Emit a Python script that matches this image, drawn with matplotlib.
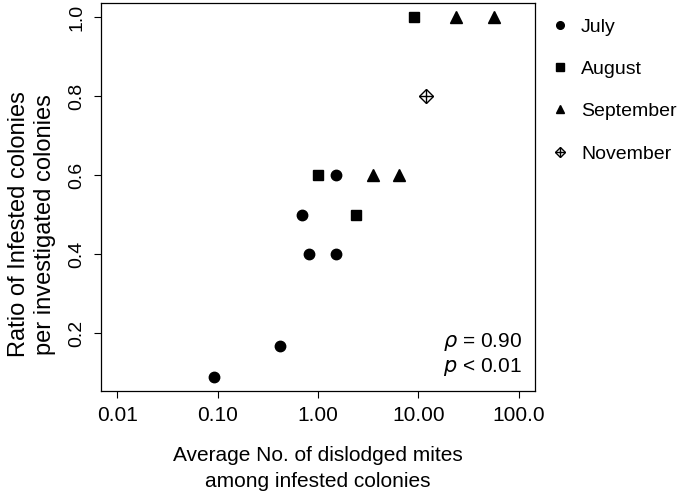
import matplotlib
matplotlib.use("Agg")
import matplotlib.pyplot as plt
from matplotlib.lines import Line2D
from matplotlib.legend_handler import HandlerTuple

plt.rcParams['font.family'] = ['Liberation Sans', 'DejaVu Sans']

# data
july_x = [0.092, 0.418, 0.69, 0.81, 1.51, 1.51]
july_y = [0.09, 0.167, 0.5, 0.4, 0.6, 0.4]
aug_x = [1.01, 2.41, 9.04]
aug_y = [0.6, 0.5, 1.0]
sep_x = [3.55, 6.46, 23.8, 56.0]
sep_y = [0.6, 0.6, 1.0, 1.0]
nov_x = [11.8]
nov_y = [0.8]

xticks = [0.01, 0.1, 1, 10, 100]
xticklabels = ['0.01', '0.10', '1.00', '10.00', '100.0']
yticks = [0.2, 0.4, 0.6, 0.8, 1.0]
yticklabels = ['0.2', '0.4', '0.6', '0.8', '1.0']

fig = plt.figure(figsize=(6.85, 4.96), dpi=100)
ax = fig.add_axes([101 / 685, 105 / 496, 434 / 685, 388 / 496])

ms = 7.5
ax.plot(july_x, july_y, 'o', color='black', ms=ms, ls='none')
ax.plot(aug_x, aug_y, 's', color='black', ms=ms * 0.92, ls='none')
ax.plot(sep_x, sep_y, '^', color='black', ms=ms * 1.1, ls='none')
ax.plot(nov_x, nov_y, 'D', mfc='white', mec='black', mew=1.0, ms=ms, ls='none')
ax.plot(nov_x, nov_y, '+', color='black', mew=1.0, ms=ms * 1.35, ls='none')

ax.set_xscale('log')
ax.set_xlim(10 ** -2.16, 10 ** 2.16)
ax.set_ylim(0.0536, 1.0364)
ax.set_xticks(xticks)
ax.set_xticklabels(xticklabels)
ax.set_yticks(yticks)
ax.set_yticklabels(yticklabels, rotation=90, va='center')
ax.minorticks_off()
ax.tick_params(axis='x', labelsize=15, length=5, width=0.8, color='black', pad=6)
ax.tick_params(axis='y', labelsize=14, length=5, width=0.8, color='black', pad=6)
for sp in ax.spines.values():
    sp.set_linewidth(0.9)

ax.set_xlabel('Average No. of dislodged mites\namong infested colonies',
              fontsize=15, linespacing=1.45, labelpad=15)
ax.set_ylabel('Ratio of Infested colonies\nper investigated colonies',
              fontsize=17, linespacing=1.25)
ax.yaxis.set_label_coords(-0.104, 0.43)

ax.text(0.97, 0.126, r'$\rho$ = 0.90', transform=ax.transAxes, ha='right',
        va='center', fontsize=15)
ax.text(0.97, 0.062, r'$p$ < 0.01', transform=ax.transAxes, ha='right',
        va='center', fontsize=15)

lms = 5.5
handles = [
    Line2D([], [], marker='o', color='black', ls='none', ms=lms),
    Line2D([], [], marker='s', color='black', ls='none', ms=lms * 0.92),
    Line2D([], [], marker='^', color='black', ls='none', ms=lms * 1.1),
    (Line2D([], [], marker='D', mfc='white', mec='black', mew=1.0, ls='none', ms=lms),
     Line2D([], [], marker='+', color='black', mew=1.0, ls='none', ms=lms * 1.35)),
]
labels = ['July', 'August', 'September', 'November']
fig.legend(handles, labels, loc='upper left', bbox_to_anchor=(552 / 685, 1 - 18 / 496),
           frameon=False, fontsize=14, handlelength=0.8, handletextpad=0.7,
           labelspacing=1.27, borderaxespad=0, borderpad=0,
           handler_map={tuple: HandlerTuple(ndivide=1, pad=0)})

fig.savefig('out.png', dpi=100)
